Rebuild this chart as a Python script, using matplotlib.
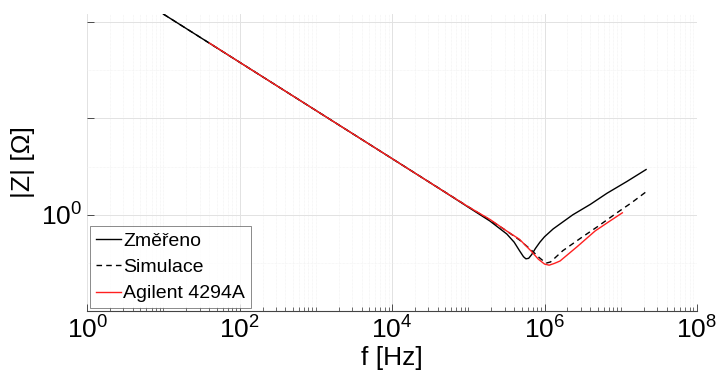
import numpy as np
import matplotlib
matplotlib.use("Agg")
import matplotlib.pyplot as plt
from matplotlib.ticker import FixedLocator, NullFormatter

plt.rcParams['font.family'] = ['Liberation Sans', 'DejaVu Sans']
plt.rcParams['mathtext.fontset'] = 'custom'
plt.rcParams['mathtext.rm'] = 'Liberation Sans'
plt.rcParams['mathtext.it'] = 'Liberation Sans'

# Zmereno (measured)
f_meas = [10, 30, 100, 1e3, 1e4, 4.3e4, 1e5, 1.93e5, 3.2e5, 4.0e5, 4.7e5, 5.3e5, 5.7e5,
          6.2e5, 6.8e5, 7.6e5, 8.7e5, 1.0e6, 1.3e6, 2.35e6, 4e6, 6.6e6, 1.2e7, 2.15e7]
z_meas = [14700, 4900, 1470, 147, 14.7, 3.4, 1.44, 0.74, 0.40, 0.27, 0.18, 0.135, 0.122,
          0.125, 0.15, 0.2, 0.27, 0.35, 0.51, 1.0, 1.65, 2.8, 4.9, 8.7]

# Simulace
f_sim = [10, 100, 1e3, 1e4, 1e5, 1.93e5, 3.2e5, 4.7e5, 6.6e5, 8.5e5, 1.0e6, 1.07e6,
         1.2e6, 1.74e6, 3e6, 4.9e6, 8.9e6, 1.4e7, 2.15e7]
z_sim = [14700, 1470, 147, 14.7, 1.47, 0.78, 0.46, 0.30, 0.19, 0.13, 0.105, 0.10,
         0.105, 0.18, 0.33, 0.56, 1.1, 1.8, 3.0]

# Agilent 4294A
f_ag = [40, 100, 1e3, 1e4, 4.3e4, 1e5, 1.93e5, 3.2e5, 4.7e5, 6.6e5, 8.3e5, 1.0e6,
        1.15e6, 1.35e6, 1.6e6, 2.7e6, 4.6e6, 7e6, 1.05e7]
z_ag = [3700, 1470, 147, 14.7, 3.4, 1.47, 0.80, 0.46, 0.31, 0.18, 0.12, 0.095,
        0.09, 0.098, 0.11, 0.22, 0.46, 0.72, 1.1]

fig = plt.figure(figsize=(7.2, 3.87), dpi=100)
ax = fig.add_axes([0.121, 0.196, 0.847, 0.768])

ax.loglog(f_meas, z_meas, color='black', lw=1.0, label='Změřeno')
ax.loglog(f_sim, z_sim, color='black', lw=1.0, ls=(0, (4, 3)), label='Simulace')
ax.loglog(f_ag, z_ag, color='#ff2020', lw=1.0, label='Agilent 4294A')

ax.set_xlim(1, 1e8)
ax.set_ylim(1e-2, 10**4.17)

ax.set_xticks([1, 1e2, 1e4, 1e6, 1e8])
ax.set_xticklabels(['$10^0$', '$10^2$', '$10^4$', '$10^6$', '$10^8$'])
ax.xaxis.set_minor_locator(FixedLocator(
    [m * 10.0**d for d in range(0, 8) for m in range(2, 10)] + [10, 1e3, 1e5, 1e7]))
ax.xaxis.set_minor_formatter(NullFormatter())

ax.set_yticks([1e-2, 1e0, 1e2, 1e4])
ax.set_yticklabels(['', '$10^0$', '', ''])
ax.yaxis.set_minor_locator(FixedLocator([1e-1, 1e1, 1e3]))
ax.yaxis.set_minor_formatter(NullFormatter())

ax.tick_params(which='both', direction='in', top=False, right=False,
               labelsize=19, color='#333333')
ax.tick_params(which='major', length=5, width=0.6)
ax.tick_params(which='minor', length=3, width=0.5)
ax.tick_params(axis='y', which='minor', length=0)

ax.grid(True, which='major', color='#e2e2e2', lw=0.7)
ax.grid(True, which='minor', color='#efefef', lw=0.5, ls=(0, (1, 1)))
ax.set_axisbelow(True)

for s in ['top', 'right', 'left']:
    ax.spines[s].set_visible(False)
ax.spines['bottom'].set_color('#444444')
ax.spines['bottom'].set_linewidth(0.8)

ax.set_xlabel('f [Hz]', fontsize=19, labelpad=2)
ax.set_ylabel('|Z| [Ω]', fontsize=19, labelpad=4)

leg = ax.legend(loc='lower left', fontsize=14, frameon=True, fancybox=False,
                borderaxespad=0.15, handlelength=1.3, handletextpad=0.1,
                borderpad=0.3, labelspacing=0.45)
leg.get_frame().set_edgecolor('#555555')
leg.get_frame().set_linewidth(0.6)

fig.savefig('out.png', dpi=100)
